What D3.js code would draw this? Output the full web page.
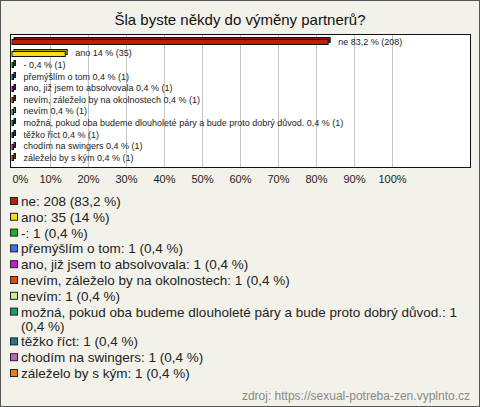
<!DOCTYPE html>
<html><head><meta charset="utf-8">
<script src="https://cdn.jsdelivr.net/npm/d3@7"></script>
<style>
html,body{margin:0;padding:0;background:#f3f2ea;}
svg{display:block;font-family:"Liberation Sans",Arial,sans-serif;}
</style></head><body>
<svg id="c" width="480" height="407"></svg>
<script>
const title = "Šla byste někdy do výměny partnerů?";
const categories = ["ne","ano","-","přemýšlím o tom","ano, již jsem to absolvovala","nevím, záleželo by na okolnostech","nevím","možná, pokud oba budeme dlouholeté páry a bude proto dobrý důvod.","těžko říct","chodím na swingers","záleželo by s kým"];
const counts = [208,35,1,1,1,1,1,1,1,1,1];
const percents = [83.2,14,0.4,0.4,0.4,0.4,0.4,0.4,0.4,0.4,0.4];
const colors = ["#c01d0c","#f4e012","#18b418","#3d70ee","#c61ad6","#e4480f","#c4f29a","#12a064","#1b7a90","#c462c8","#ee8012"];
const ticks = [0,10,20,30,40,50,60,70,80,90,100];
const source = "zdroj: https://sexual-potreba-zen.vyplnto.cz";

const fmt = v => String(v).replace(".", ",");
const svg = d3.select("#c");
const W = 480, H = 407;

svg.append("rect").attr("x",0.5).attr("y",0.5).attr("width",W-1).attr("height",H-1)
  .attr("fill","#f3f2ea").attr("stroke","#555");

svg.append("text").attr("x",240).attr("y",25).attr("text-anchor","middle")
  .attr("font-size",15).attr("fill","#111").text(title);

const plot = {x0:10.5, y0:34.5, x1:470.5, y1:167.5};
svg.append("rect").attr("x",plot.x0).attr("y",plot.y0)
  .attr("width",plot.x1-plot.x0).attr("height",plot.y1-plot.y0)
  .attr("fill","#fff");

const x = d3.scaleLinear().domain([0,100]).range([12,392]);
const y = d3.scaleBand().domain(categories).range([36,163.5]).paddingInner(0).paddingOuter(0);

// gridlines
svg.append("g").selectAll("line").data(ticks.filter(t=>t>0)).join("line")
  .attr("x1",d=>Math.round(x(d))+0.5).attr("x2",d=>Math.round(x(d))+0.5)
  .attr("y1",plot.y0).attr("y2",plot.y1).attr("stroke","#c4c4c4");

svg.append("rect").attr("x",plot.x0).attr("y",plot.y0)
  .attr("width",plot.x1-plot.x0).attr("height",plot.y1-plot.y0)
  .attr("fill","none").attr("stroke","#111");

// axis tick labels
const axis = d3.axisBottom(x).tickValues(ticks).tickFormat(d=>d+"%").tickSize(0).tickPadding(0);
const ag = svg.append("g").attr("transform","translate(0,175)").call(axis);
ag.select(".domain").remove();
ag.selectAll("text").attr("font-size",11).attr("fill","#222")
  .attr("font-family","Liberation Sans, Arial, sans-serif")
  .attr("text-anchor",d=>d===0?"start":"middle");

// bars
const bh = 5, off = 2;
const bars = svg.append("g");
categories.forEach((c,i)=>{
  const cy = y(c) + y.bandwidth()/2;
  const w = Math.max(x(percents[i]) - x(0), 1);
  const top = Math.round(cy - bh/2) + 0.5;
  bars.append("rect").attr("x",x(0)+off).attr("y",top-off).attr("width",w).attr("height",bh)
    .attr("fill",d3.color(colors[i]).darker(0.8)).attr("stroke","#111").attr("stroke-width",1);
  bars.append("rect").attr("x",x(0)).attr("y",top).attr("width",w).attr("height",bh)
    .attr("fill",colors[i]).attr("stroke","#111").attr("stroke-width",1);
  bars.append("text").attr("x",x(0)+w+off+8).attr("y",cy+3)
    .attr("font-size",9).attr("fill","#222")
    .text(c+" "+fmt(percents[i])+" % ("+counts[i]+")");
});

// legend
const lg = svg.append("g");
let ly = 201;
const maxW = 440;
categories.forEach((c,i)=>{
  lg.append("rect").attr("x",10.5).attr("y",ly-3.5).attr("width",7).attr("height",7)
    .attr("fill",colors[i]).attr("stroke","#222");
  const label = c+": "+counts[i]+" ("+fmt(percents[i])+" %)";
  const t = lg.append("text").attr("x",21).attr("y",ly+5).attr("font-size",13.5).attr("fill","#222");
  const words = label.split(" ");
  let line = [], tsp = t.append("tspan").attr("x",21);
  let lines = 1;
  words.forEach(wd=>{
    line.push(wd);
    tsp.text(line.join(" "));
    if (tsp.node().getComputedTextLength() > maxW && line.length>1){
      line.pop(); tsp.text(line.join(" "));
      line=[wd];
      tsp = t.append("tspan").attr("x",21).attr("dy",14).text(wd);
      lines++;
    }
  });
  ly += 15.8 + (lines-1)*14;
});

svg.append("text").attr("x",470).attr("y",400).attr("text-anchor","end")
  .attr("font-size",12).attr("fill","#888").text(source);
</script>
</body></html>
